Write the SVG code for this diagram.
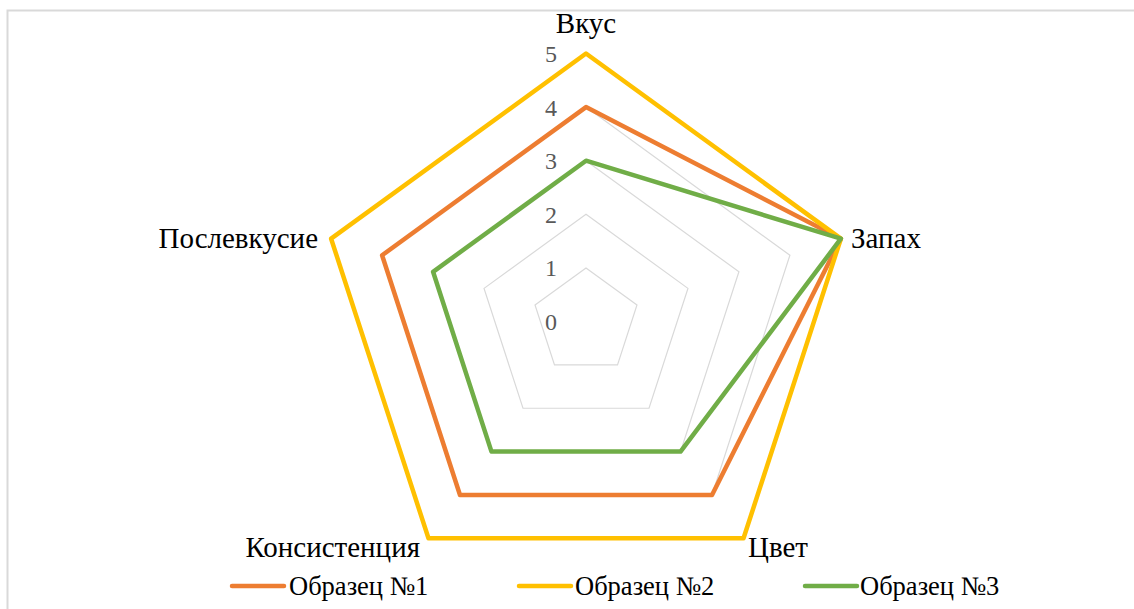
<svg xmlns="http://www.w3.org/2000/svg" width="1134" height="609" viewBox="0 0 1134 609">
<style>
.grid{fill:none;stroke:#d9d9d9;stroke-width:1.2}
.s{fill:none;stroke-width:4.5;stroke-linejoin:round;stroke-linecap:round}
.s1{stroke:#ED7D31}.s2{stroke:#FFC000}.s3{stroke:#70AD47}
.cat{font-family:"Liberation Serif","Times New Roman",serif;font-size:29px;fill:#000}
.leg{font-family:"Liberation Serif","Times New Roman",serif;font-size:26.5px;fill:#000}
.num{font-family:"Liberation Serif","Times New Roman",serif;font-size:24px;fill:#595959;text-anchor:end}
</style>
<rect x="0" y="0" width="1134" height="609" fill="#fff"/>
<rect x="7.5" y="10.5" width="1140" height="620" fill="none" stroke="#d9d9d9" stroke-width="2"/>
<g id="grid">
<polygon class="grid" points="586,267.9 636.98,304.94 617.51,364.86 554.49,364.86 535.02,304.94"/>
<polygon class="grid" points="586,214.3 687.95,288.37 649.01,408.23 522.99,408.23 484.05,288.37"/>
<polygon class="grid" points="586,160.7 738.93,271.81 680.52,451.59 491.48,451.59 433.07,271.81"/>
<polygon class="grid" points="586,107.1 789.91,255.25 712.02,494.95 459.98,494.95 382.09,255.25"/>
<polygon class="grid" points="586,53.5 840.88,238.68 743.53,538.32 428.47,538.32 331.12,238.68"/>
</g>
<g id="axis-values">
<text class="num" x="557" y="330">0</text>
<text class="num" x="557" y="276">1</text>
<text class="num" x="557" y="222.5">2</text>
<text class="num" x="557" y="169">3</text>
<text class="num" x="557" y="115.5">4</text>
<text class="num" x="557" y="62">5</text>
</g>
<g id="series">
<polygon id="series-1" class="s s1" points="586,107.1 840.88,238.68 712.02,494.95 459.98,494.95 382.09,255.25"/>
<polygon id="series-2" class="s s2" points="586,53.5 840.88,238.68 743.53,538.32 428.47,538.32 331.12,238.68"/>
<polygon id="series-3" class="s s3" points="586,160.7 840.88,238.68 680.52,451.59 491.48,451.59 433.07,271.81"/>
</g>
<g id="categories">
<text class="cat" x="586" y="33" text-anchor="middle">Вкус</text>
<text class="cat" x="851" y="248">Запах</text>
<text class="cat" x="748" y="557">Цвет</text>
<text class="cat" x="420" y="557" text-anchor="end">Консистенция</text>
<text class="cat" x="318" y="248" text-anchor="end">Послевкусие</text>
</g>
<g id="legend">
<line class="s s1" x1="232" y1="586" x2="284" y2="586"/>
<text class="leg" x="289" y="595">Образец №1</text>
<line class="s s2" x1="519" y1="586" x2="571" y2="586"/>
<text class="leg" x="575" y="595">Образец №2</text>
<line class="s s3" x1="805" y1="586" x2="857" y2="586"/>
<text class="leg" x="860" y="595">Образец №3</text>
</g>
</svg>
